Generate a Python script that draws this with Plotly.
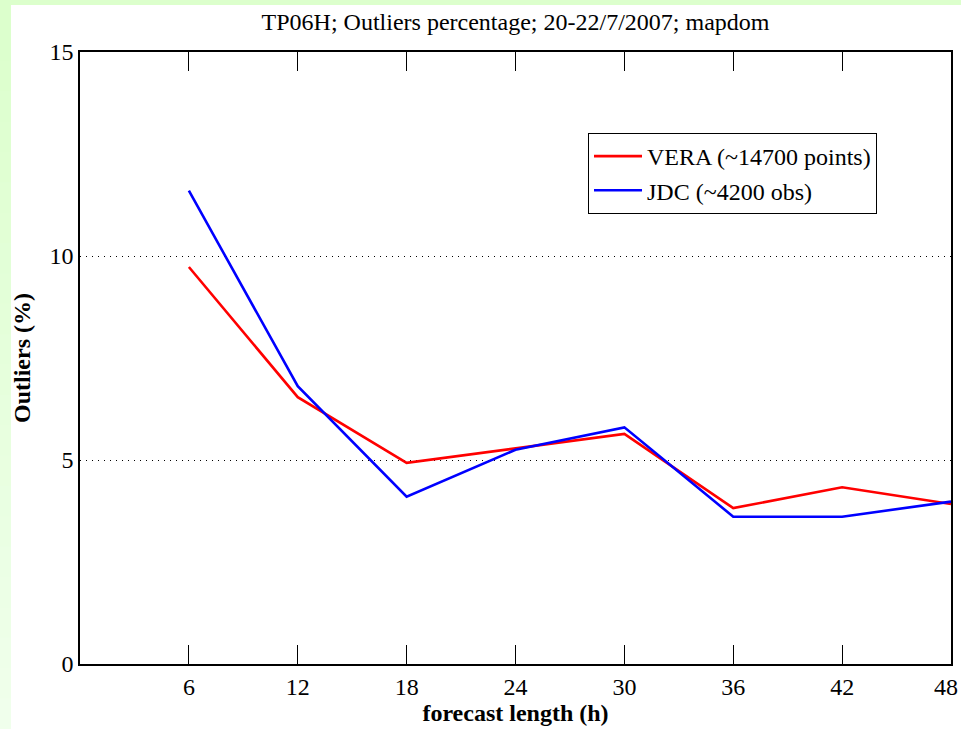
import plotly.graph_objects as go

# forecast lead times (h)
lead_hours = [6, 12, 18, 24, 30, 36, 42, 48]
# percentage of outliers per lead time
vera_outliers = [9.73, 6.54, 4.93, 5.29, 5.64, 3.82, 4.33, 3.92]
jdc_outliers = [11.6, 6.81, 4.10, 5.25, 5.80, 3.61, 3.61, 3.98]

x_ticks = [6, 12, 18, 24, 30, 36, 42, 48]
y_ticks = [0, 5, 10, 15]

series_names = ["VERA (~14700 points)", "JDC (~4200 obs)"]
title_text = "TP06H; Outliers percentage; 20-22/7/2007; mapdom"

W, H = 961, 729
L, R, T, B = 80, 10, 52, 65
PW, PH = W - L - R, H - T - B
FONT = "Liberation Serif"


def px_x(p):
    return (p - L) / PW


def px_y(p):
    return (H - B - p) / PH


fig = go.Figure()
fig.add_trace(go.Scatter(x=lead_hours, y=vera_outliers, mode="lines",
                         name=series_names[0],
                         line=dict(color="#ff0000", width=2.6)))
fig.add_trace(go.Scatter(x=lead_hours, y=jdc_outliers, mode="lines",
                         name=series_names[1],
                         line=dict(color="#0000ff", width=2.6)))

# slide background: green strip along top and a fading strip on the left
shapes = [dict(type="rect", xref="paper", yref="paper", layer="below",
               x0=px_x(0), x1=px_x(W), y0=px_y(0), y1=px_y(5),
               fillcolor="#dcffcc", line_width=0)]
steps = 24
for i in range(steps):
    t = i / (steps - 1)
    r = int(0xdc + (0xf0 - 0xdc) * t)
    g = 255
    b = int(0xcc + (0xec - 0xcc) * t)
    y0 = i * H / steps
    y1 = (i + 1) * H / steps + 1
    shapes.append(dict(type="rect", xref="paper", yref="paper", layer="below",
                       x0=px_x(0), x1=px_x(11), y0=px_y(y1), y1=px_y(y0),
                       fillcolor=f"rgb({r},{g},{b})", line_width=0))

# the last tick label sits at the page edge; plotly would drop it, so place it by hand
last_tick = x_ticks[-1]
annotations = [dict(x=last_tick, xref="x", y=0, yref="y", text=str(last_tick),
                    showarrow=False, yanchor="top", xanchor="right",
                    xshift=9, yshift=-8,
                    font=dict(family=FONT, size=24, color="black"))]

fig.update_layout(
    width=W, height=H,
    margin=dict(l=L, r=R, t=T, b=B, autoexpand=False),
    paper_bgcolor="white", plot_bgcolor="white",
    font=dict(family=FONT, color="black", size=24),
    title=dict(text=title_text, x=0.5, xref="paper", xanchor="center",
               y=1 - 22 / H, yanchor="middle",
               font=dict(family=FONT, size=24, color="black")),
    shapes=shapes,
    annotations=annotations,
    showlegend=True,
    legend=dict(x=px_x(588), y=px_y(133), xanchor="left", yanchor="top",
                bgcolor="white", bordercolor="black", borderwidth=1,
                font=dict(family=FONT, size=24, color="black"),
                tracegroupgap=0, itemwidth=48),
    xaxis=dict(range=[0, 48], tickvals=x_ticks[:-1],
               ticktext=[str(v) for v in x_ticks[:-1]],
               ticks="inside", ticklen=19, tickwidth=1, tickcolor="black",
               showline=True, linecolor="black", linewidth=1.5, mirror="ticks",
               showgrid=False, zeroline=False, automargin=False,
               tickfont=dict(family=FONT, size=24),
               title=dict(text="<b>forecast length (h)</b>", standoff=4,
                          font=dict(family=FONT, size=24))),
    yaxis=dict(range=[0, 15], tickvals=y_ticks, ticktext=[str(v) for v in y_ticks],
               ticks="", showline=True, linecolor="black", linewidth=1.5,
               mirror=True, showgrid=True, gridcolor="black", gridwidth=1,
               griddash="1px,5px", zeroline=False, automargin=False,
               tickfont=dict(family=FONT, size=24),
               title=dict(text="<b>Outliers (%)</b>", standoff=12,
                          font=dict(family=FONT, size=24))),
)

fig.write_html("out.html")
